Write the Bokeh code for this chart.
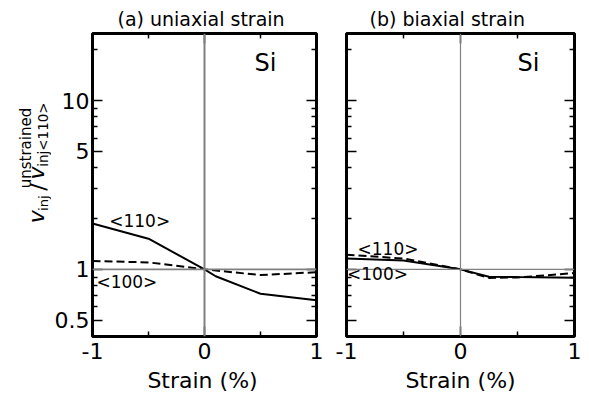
import math
from bokeh.plotting import figure
from bokeh.layouts import row, column
from bokeh.models import (Range1d, FixedTicker, LinearAxis, LogAxis, Span, Label,
                          CustomLabelingPolicy)
from bokeh.embed import file_html
from bokeh.resources import INLINE

# ---------------- data ----------------
strain_uni_110 = [-1.0, -0.5, 0.0, 0.1, 0.5, 1.0]
ratio_uni_110 = [1.87, 1.52, 1.0, 0.91, 0.717, 0.655]
strain_uni_100 = [-1.0, -0.5, 0.0, 0.5, 1.0]
ratio_uni_100 = [1.12, 1.10, 1.0, 0.925, 0.962]
strain_bi = [-1.0, -0.5, 0.0, 0.25, 0.5, 1.0]
ratio_bi_110 = [1.16, 1.13, 1.0, 0.905, 0.90, 0.893]
ratio_bi_100 = [1.22, 1.16, 1.0, 0.89, 0.895, 0.95]

x_ticks = [-1, 0, 1]
x_minor_ticks = [-0.5, 0.5]
y_ticks = [0.5, 1, 5, 10]
y_minor_ticks = [0.6, 0.7, 0.8, 0.9, 2, 3, 4, 6, 7, 8, 9, 20]
x_tick_labels = {-1: "-1", 0: "0", 1: "1"}
y_tick_labels = {0.5: "0.5", 1: "1", 5: "5", 10: "10"}
titles = ["(a) uniaxial strain", "(b) biaxial strain"]
x_label = "Strain (%)"

# ---------------- layout ----------------
FONT = "DejaVu Sans"
BASE = 0.38             # distance (em) between Bokeh's "alphabetic" anchor and the real baseline
# DejaVu Sans advance widths (em) of the characters in the rotated label
ADV = {"v": 0.592, "i": 0.278, "n": 0.634, "j": 0.278, "/": 0.337, "<": 0.838,
       ">": 0.838, "1": 0.636, "0": 0.636, "u": 0.634, "s": 0.521, "t": 0.392,
       "r": 0.411, "a": 0.613, "e": 0.615, "d": 0.635}
FRAME_W, FRAME_H = 228, 303
TOP_STRIP = 31          # strip holding the titles
YLAB_W = 51             # strip holding the rotated y label
TOP, BOTTOM = 2, 33
PANEL_H = TOP + FRAME_H + BOTTOM
BOT_STRIP = 396 - TOP_STRIP - PANEL_H
Y_LO, Y_HI = 0.4, 25


def ydata(py):
    lo, hi = math.log10(Y_LO), math.log10(Y_HI)
    return 10 ** (hi - (py - 33) / FRAME_H * (hi - lo))


def xdata(px, left):
    return -1 + 2 * (px - left) / FRAME_W


HIDE = "for (const i of indices) { indices.unset(i) }\nreturn indices"


def make_fig(bl, br, show_ylabels):
    p = figure(width=bl + FRAME_W + br, height=PANEL_H,
               x_range=Range1d(-1, 1), y_range=Range1d(Y_LO, Y_HI),
               y_axis_type="log", output_backend="svg", toolbar_location=None,
               min_border_left=bl, min_border_right=br,
               min_border_top=TOP, min_border_bottom=BOTTOM)
    p.add_layout(LinearAxis(), "above")
    p.add_layout(LogAxis(), "right")
    p.grid.visible = False
    p.outline_line_color = "black"
    p.outline_line_width = 3
    p.background_fill_color = "white"
    p.border_fill_color = "white"
    for ax in p.axis:
        ax.axis_line_color = None
        ax.major_tick_in = 10
        ax.major_tick_out = 0
        ax.minor_tick_in = 5
        ax.minor_tick_out = 0
        ax.major_tick_line_width = 1.5
        ax.minor_tick_line_width = 1.5
        ax.major_tick_line_color = "black"
        ax.minor_tick_line_color = "black"
        ax.major_label_text_font = FONT
        ax.major_label_text_font_size = "22px"
        ax.major_label_text_color = "black"
    for ax in p.xaxis:
        ax.ticker = FixedTicker(ticks=x_ticks, minor_ticks=x_minor_ticks)
        ax.major_label_overrides = x_tick_labels
        ax.major_label_standoff = 6
    for ax in p.yaxis:
        ax.ticker = FixedTicker(ticks=y_ticks, minor_ticks=y_minor_ticks)
        ax.major_label_overrides = y_tick_labels
        ax.major_label_standoff = 3
    hidden = [p.above[0], p.right[0]]
    if not show_ylabels:
        hidden.append(p.left[0])
    for ax in hidden:
        ax.major_label_text_font_size = "0px"
        ax.major_label_standoff = 0
        ax.major_label_policy = CustomLabelingPolicy(code=HIDE)
    return p


def text_strip(w, h):
    # data units = pixels, x from the left edge, y from the BOTTOM edge
    s = figure(width=w, height=h, x_range=Range1d(0, w), y_range=Range1d(0, h),
               output_backend="svg", toolbar_location=None, title=None,
               x_axis_location=None, y_axis_location=None,
               min_border=0, min_border_left=0, min_border_right=0,
               min_border_top=0, min_border_bottom=0)
    s.grid.visible = False
    s.outline_line_color = None
    s.background_fill_color = "white"
    s.border_fill_color = "white"
    return s


def lab(p, x, y, text, size, angle=0.0, italic=False, align="left"):
    p.add_layout(Label(x=x, y=y, text=text, text_font=FONT,
                       text_font_size=f"{size}px", angle=angle,
                       text_align=align, text_baseline="alphabetic",
                       text_font_style="italic" if italic else "normal",
                       text_color="black"))


def hlab(p, h, px, py, text, size, **kw):
    """horizontal text in a strip of height h; py = wanted baseline, from the strip top"""
    lab(p, px, h - (py - BASE * size), text, size, **kw)


def vlab(p, h, bx, py, text, size, **kw):
    """text rotated 90 deg; bx = wanted baseline x, py = start (bottom) y from the strip top.
    Anchored at the middle of the text, so the rotation cannot move it along its length."""
    length = sum(ADV[c] for c in text) * size
    lab(p, bx - BASE * size, h - (py - length / 2), text, size,
        angle=math.pi / 2, align="center", **kw)


# ---------------- title strip ----------------
top = text_strip(588, TOP_STRIP)
hlab(top, TOP_STRIP, 117, 26, titles[0], 19)
hlab(top, TOP_STRIP, 369, 26, titles[1], 19)

# ---------------- rotated y-axis label strip ----------------
ylab = text_strip(YLAB_W, PANEL_H)
oy = TOP_STRIP
vlab(ylab, PANEL_H, 44, 242 - oy, "v", 22, italic=True)
vlab(ylab, PANEL_H, 47.5, 228 - oy, "inj", 13)
vlab(ylab, PANEL_H, 46, 206 - oy, "/", 22)
vlab(ylab, PANEL_H, 44, 193 - oy, "v", 22, italic=True)
vlab(ylab, PANEL_H, 47.5, 176 - oy, "inj<110>", 13.5)
vlab(ylab, PANEL_H, 31.5, 199 - oy, "unstrained", 15)

# ---------------- panel (a) ----------------
L1 = YLAB_W + 37
p1 = make_fig(37, 15, True)
p1.add_layout(Span(location=0, dimension="height", line_color="#808080", line_width=2))
p1.add_layout(Span(location=1, dimension="width", line_color="#808080", line_width=1.7))
p1.line(strain_uni_110, ratio_uni_110, line_color="black", line_width=2)
p1.line(strain_uni_100, ratio_uni_100, line_color="black", line_width=2, line_dash="8 4")
lab(p1, xdata(253, L1), ydata(72 - BASE * 24), "Si", 24)
lab(p1, xdata(105, L1), ydata(226.5 - BASE * 17), "<110>", 17)
lab(p1, xdata(92, L1), ydata(288 - BASE * 17), "<100>", 17)

# ---------------- panel (b) ----------------
L2 = L1 + FRAME_W + 15 + 15
p2 = make_fig(15, 14, False)
p2.add_layout(Span(location=0, dimension="height", line_color="#808080", line_width=1.2))
p2.add_layout(Span(location=1, dimension="width", line_color="#808080", line_width=1.2))
p2.line(strain_bi, ratio_bi_110, line_color="black", line_width=2)
p2.line(strain_bi, ratio_bi_100, line_color="black", line_width=2, line_dash="8 4")
lab(p2, xdata(517, L2), ydata(72 - BASE * 24), "Si", 24)
lab(p2, xdata(357, L2), ydata(255 - BASE * 17), "<110>", 17)
lab(p2, xdata(346.5, L2), ydata(280 - BASE * 17), "<100>", 17)

# ---------------- x-axis label strip ----------------
bot = text_strip(588, BOT_STRIP)
ob = TOP_STRIP + PANEL_H
hlab(bot, BOT_STRIP, L1 + FRAME_W / 2, 388 - ob, x_label, 22, align="center")
hlab(bot, BOT_STRIP, L2 + FRAME_W / 2, 388 - ob, x_label, 22, align="center")

layout = column(top, row(ylab, p1, p2), bot)
open("out.html", "w").write(file_html(layout, INLINE))
